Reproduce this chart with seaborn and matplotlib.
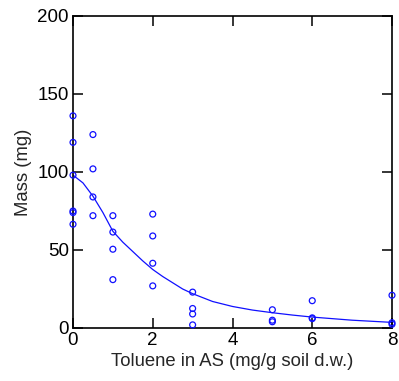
import matplotlib
matplotlib.use("Agg")
import matplotlib.pyplot as plt
import seaborn as sns
import pandas as pd

# observed data
toluene = [0, 0, 0, 0, 0, 0,
           0.5, 0.5, 0.5, 0.5,
           1, 1, 1, 1,
           2, 2, 2, 2,
           3, 3, 3, 3,
           5, 5, 5,
           6, 6, 6,
           8, 8, 8]
mass = [136, 119, 98, 75, 74, 66.5,
        124, 102, 84, 72,
        72, 61.5, 50.5, 31,
        73, 59, 41.5, 27,
        23, 12.5, 9, 2,
        11.7, 5, 4,
        17.5, 6.5, 6,
        21, 3.4, 2.4]

# fitted curve
curve_x = [0, 0.25, 0.5, 0.75, 1.0, 1.25, 1.5, 1.75, 2.0, 2.25, 2.5, 2.75,
           3.0, 3.5, 4.0, 4.5, 5.0, 5.5, 6.0, 7.0, 8.0]
curve_y = [98, 93, 84.5, 74, 62, 55, 49, 43, 37.5, 33, 29, 25,
           22, 17, 13.8, 11.5, 9.8, 8.3, 7, 5, 3.6]

x_ticks = [0, 2, 4, 6, 8]
y_ticks = [0, 50, 100, 150, 200]

sns.set_theme(style="ticks")
plt.rcParams['font.family'] = ['Liberation Sans', 'DejaVu Sans']

fig = plt.figure(figsize=(3.99, 3.81), dpi=100)
ax = fig.add_axes([73/399, 1-328/381, (392-73)/399, (328-16)/381])

pts = pd.DataFrame({"x": toluene, "y": mass})
cur = pd.DataFrame({"x": curve_x, "y": curve_y})

sns.lineplot(data=cur, x="x", y="y", ax=ax, color="#1010ff", linewidth=0.9,
             sort=True, estimator=None)
sns.scatterplot(data=pts, x="x", y="y", ax=ax, marker="o", s=18,
                facecolor="none", edgecolor="#1010ff", linewidth=0.9,
                clip_on=False, zorder=5)

ax.set_xlim(0, 8)
ax.set_ylim(0, 200)
ax.set_xticks(x_ticks)
ax.set_yticks(y_ticks)
ax.tick_params(direction="in", length=7.5, width=1.1, top=True, right=True,
               labelsize=13.5, colors="black", pad=3)
for s in ax.spines.values():
    s.set_linewidth(1.2)
    s.set_color("black")
    s.set_visible(True)
ax.set_xlabel("Toluene in AS (mg/g soil d.w.)", fontsize=13.3, labelpad=3)
ax.set_ylabel("Mass (mg)", fontsize=13.3, labelpad=4)
ax.set_facecolor("white")
fig.patch.set_facecolor("white")

fig.savefig("out.png", dpi=100)
